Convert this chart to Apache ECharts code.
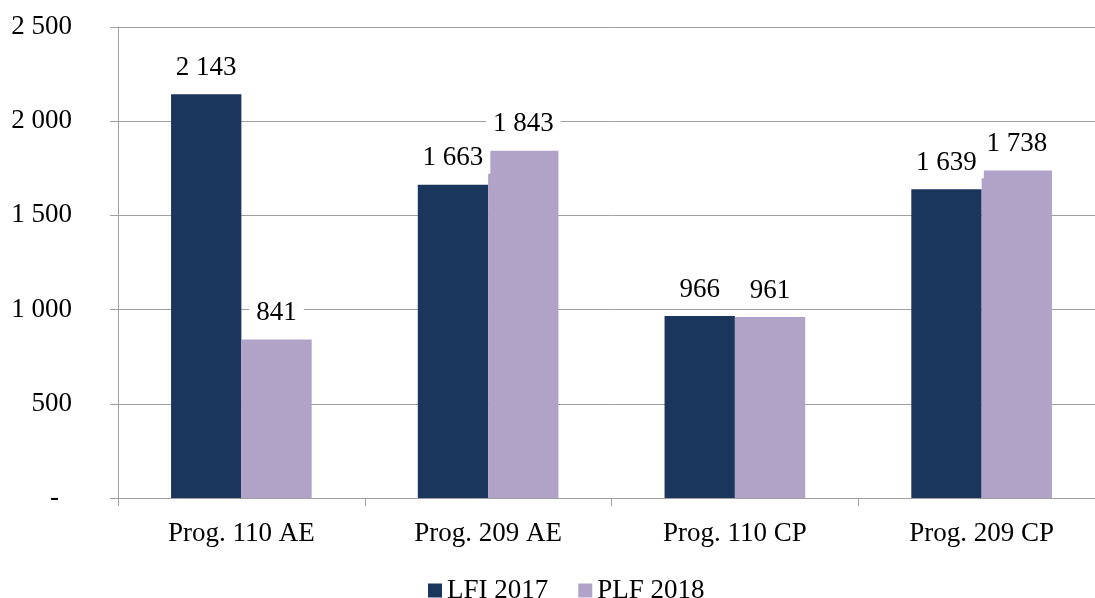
<!DOCTYPE html>
<html>
<head>
<meta charset="utf-8">
<script src="https://cdn.jsdelivr.net/npm/echarts@6/dist/echarts.min.js"></script>
<style>
  html, body { margin: 0; padding: 0; background: #ffffff; overflow: hidden; }
  /* the plot runs slightly past the right edge of the page */
  #chart { width: 1110px; height: 598px; }
</style>
</head>
<body>
<div id="chart"></div>
<script>
// Programme budgets, in millions of euros
const categories = ['Prog. 110 AE', 'Prog. 209 AE', 'Prog. 110 CP', 'Prog. 209 CP'];
const lfi2017 = [2143, 1663, 966, 1639];
const plf2018 = [841, 1843, 961, 1738];
const seriesNames = ['LFI 2017', 'PLF 2018'];
const yTicks = [0, 500, 1000, 1500, 2000, 2500];

const FONT = 'Liberation Serif';
const GRID_GRAY = '#a0a0a0';

// thousands separated by a space
function fmt(v) {
  return String(v).replace(/\B(?=(\d{3})+(?!\d))/g, ' ');
}

const chart = echarts.init(document.getElementById('chart'), null, { renderer: 'canvas' });

const labelStyle = {
  show: true,
  position: 'top',
  distance: 11,
  color: '#000000',
  fontFamily: FONT,
  fontSize: 27,
  backgroundColor: '#ffffff',
  padding: [2, 7, 2, 7],
  formatter: p => fmt(p.value)
};

chart.setOption({
  animation: false,
  textStyle: { fontFamily: FONT },
  grid: { left: 118, top: 27, width: 987, height: 471, containLabel: false },
  legend: {
    left: 423,
    top: 572,
    itemWidth: 14,
    itemHeight: 14,
    itemGap: 30,
    icon: 'rect',
    textStyle: { fontFamily: FONT, fontSize: 27, color: '#000000' },
    data: seriesNames
  },
  xAxis: {
    type: 'category',
    data: categories,
    axisLine: { lineStyle: { color: GRID_GRAY, width: 1 } },
    axisTick: { show: true, length: 8, lineStyle: { color: GRID_GRAY } },
    axisLabel: { color: '#000000', fontFamily: FONT, fontSize: 27, margin: 22 }
  },
  yAxis: {
    type: 'value',
    min: yTicks[0],
    max: yTicks[yTicks.length - 1],
    interval: yTicks[1] - yTicks[0],
    axisLine: { show: true, lineStyle: { color: GRID_GRAY, width: 1 } },
    axisTick: { show: true, length: 8, lineStyle: { color: GRID_GRAY } },
    splitLine: { show: true, lineStyle: { color: GRID_GRAY, width: 1 } },
    axisLabel: {
      color: '#000000',
      fontFamily: FONT,
      fontSize: 27,
      margin: 46,
      // zero is shown as a dash
      formatter: v => (v === 0 ? '{d|-}' : fmt(v)),
      rich: { d: { fontFamily: FONT, fontSize: 27, color: '#000000', padding: [0, 13, 0, 0] } }
    }
  },
  series: [
    {
      name: seriesNames[0],
      type: 'bar',
      data: lfi2017,
      barGap: '0%',
      barCategoryGap: '43%',
      itemStyle: { color: '#1b365d' },
      label: labelStyle
    },
    {
      name: seriesNames[1],
      type: 'bar',
      data: plf2018,
      barGap: '0%',
      barCategoryGap: '43%',
      itemStyle: { color: '#b1a2c8' },
      label: labelStyle
    }
  ]
});
</script>
</body>
</html>
